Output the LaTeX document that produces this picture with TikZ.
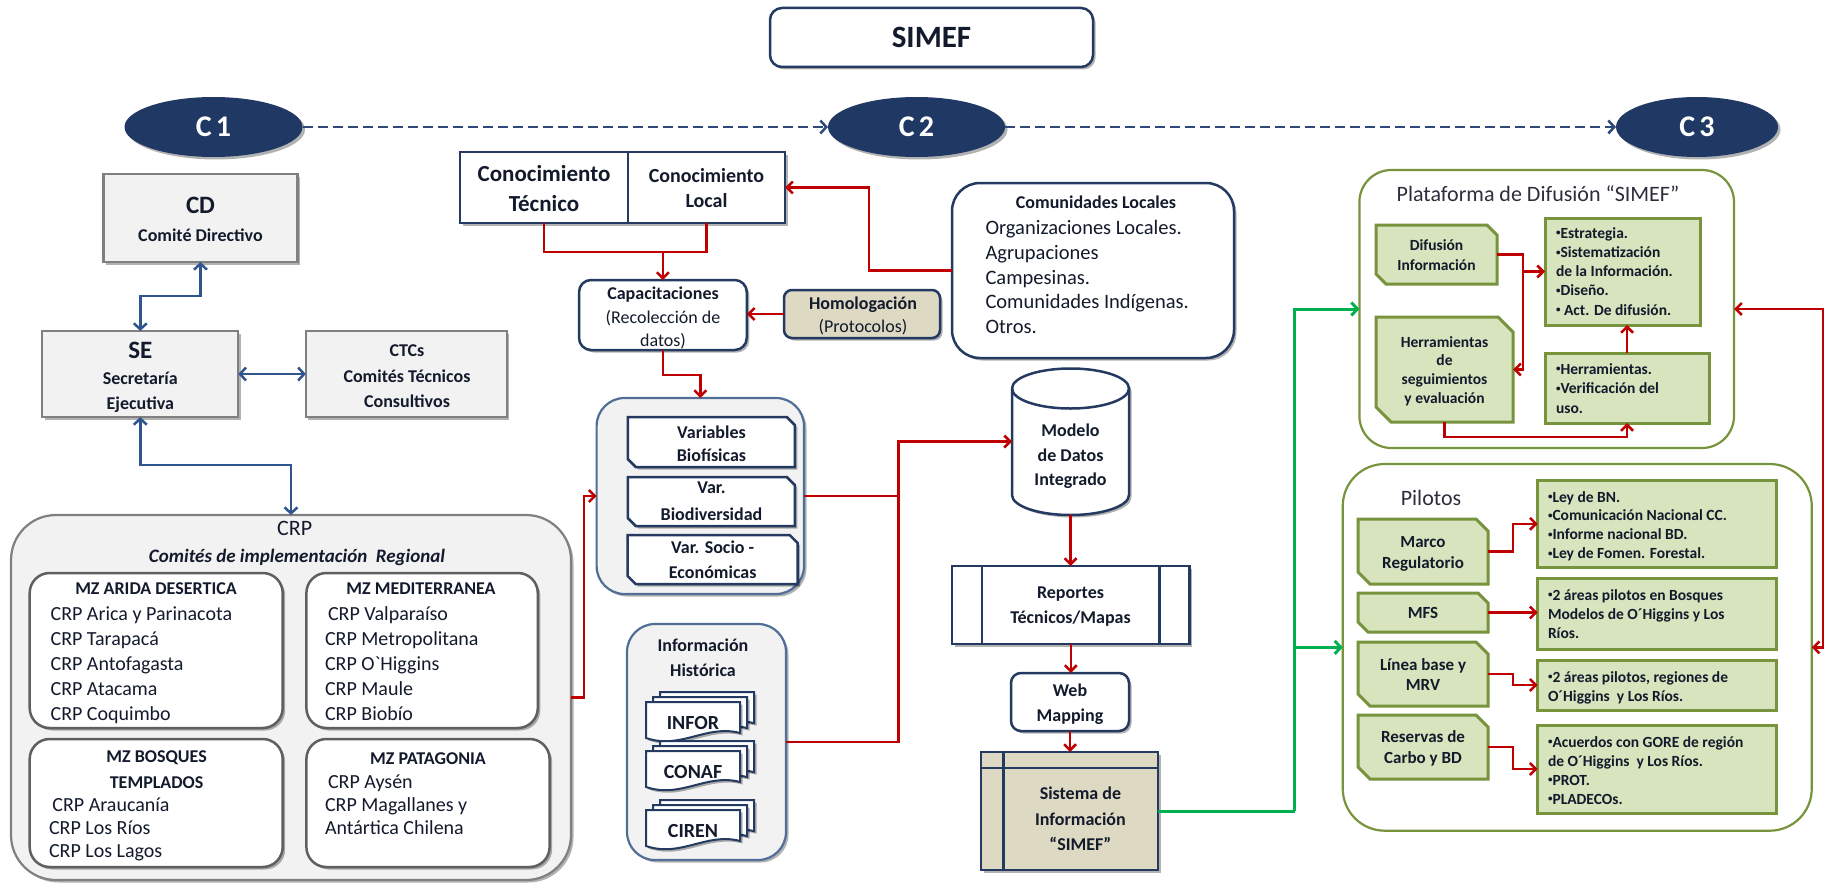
\documentclass[tikz,border=0pt]{standalone}
\usepackage{fontspec}
\setmainfont{Carlito}
\usetikzlibrary{arrows.meta,shadows,calc,shapes.geometric}
\definecolor{navy}{RGB}{31,56,100}
\definecolor{bnavy}{RGB}{36,58,96}
\definecolor{blueln}{RGB}{47,85,140}
\definecolor{dashc}{RGB}{46,74,122}
\definecolor{redc}{RGB}{192,0,0}
\definecolor{greenc}{RGB}{0,176,80}
\definecolor{olive}{RGB}{119,147,60}
\definecolor{olivef}{RGB}{215,228,189}
\definecolor{tanf}{RGB}{221,217,195}
\definecolor{greyf}{RGB}{242,242,242}
\definecolor{greyb}{RGB}{128,128,128}
\definecolor{mzb}{RGB}{95,95,95}
\definecolor{steel}{RGB}{80,110,150}
\definecolor{txtc}{RGB}{18,26,44}
\definecolor{txtg}{RGB}{55,60,50}
\definecolor{titc}{RGB}{45,45,60}
\newcommand\setfz[1]{\fontsize{#1}{#1}\selectfont}
\newcommand\sbul{\raisebox{0.28ex}{\fontsize{9}{9}\selectfont•}}
\newcommand\chbox[7]{%
  \node[bx0,minimum width=#4,minimum height=#5] (#1) at (#2,#3) {};
  \draw[#7] (#1.north west) -- ([xshift=-#6pt]#1.north east) -- ([yshift=-#6pt]#1.north east)
    -- (#1.south east) -- ([xshift=#6pt]#1.south west) -- ([yshift=#6pt]#1.south west) -- cycle;}
\newcommand\docstack[4]{%
  \foreach \o in {14,7,0}{%
    \draw[docsheet] ({#2+\o},{#3-0.7*\o}) -- ({#2+\o+94},{#3-0.7*\o}) -- ({#2+\o+94},{#3-0.7*\o+31})
      .. controls ({#2+\o+60},{#3-0.7*\o+22}) and ({#2+\o+35},{#3-0.7*\o+48}) .. ({#2+\o},{#3-0.7*\o+36}) -- cycle;}
  \node[tx, font=\setfz{20}\bfseries] (#1) at ({#2+47},{#3+27}) {#4};}
\tikzset{
  bx0/.style={inner sep=0pt, outer sep=0pt},
  shd/.style={drop shadow={shadow xshift=2.5pt,shadow yshift=-2.5pt,opacity=.3,fill=black}},
  greybox/.style={bx0, draw=greyb, fill=greyf, line width=2.2pt, shd},
  mzbox/.style={bx0, draw=mzb, fill=white, line width=2.5pt, rounded corners=20pt, shd},
  navybox/.style={bx0, draw=bnavy, fill=white, line width=2.5pt, shd},
  grpbox/.style={bx0, draw=steel, fill=greyf, line width=2.2pt, rounded corners=28pt, shd},
  olivebox/.style={bx0, draw=olive, fill=white, line width=2.2pt},
  leaf/.style={draw=olive, fill=olivef, line width=3pt},
  varbox/.style={draw=bnavy, fill=white, line width=2.5pt, shd},
  docsheet/.style={draw=bnavy, fill=white, line width=2pt, shd},
  navyline/.style={draw=bnavy, line width=2.5pt},
  oval/.style={bx0, ellipse, fill=navy, text=white, font=\setfz{30}\bfseries, shd},
  tx/.style={inner sep=0pt, outer sep=0pt, anchor=base, text=txtc},
  txl/.style={tx, anchor=base west},
  redline/.style={draw=redc, line width=2.5pt},
  redarrow/.style={redline, -{Straight Barb[length=6pt,width=12pt]}},
  redboth/.style={redline, {Straight Barb[length=6pt,width=12pt]}-{Straight Barb[length=6pt,width=12pt]}},
  bluearrow/.style={draw=blueln, line width=2.5pt, {Straight Barb[length=6pt,width=13pt]}-{Straight Barb[length=6pt,width=13pt]}},
  greenline/.style={draw=greenc, line width=3pt},
  greenarrow/.style={greenline, -{Straight Barb[length=6pt,width=13pt]}},
  dashln/.style={draw=dashc, line width=2.5pt, dash pattern=on 10pt off 5pt, -{Straight Barb[length=6pt,width=13pt]}},
}
\begin{document}
\begin{tikzpicture}[x=1pt,y=-1pt]
\useasboundingbox (0,0) rectangle (1825,883);
\fill[white] (0,0) rectangle (1825,883);

% ---------- top ----------
\node[navybox, rounded corners=12pt, minimum width=323, minimum height=59, font=\setfz{31}\bfseries, text=txtc] (simef) at (931.5,37.5) {SIMEF};
\node[oval, minimum width=178, minimum height=60] (c1) at (213.5,127) {C\hspace{4pt}1};
\node[oval, minimum width=177, minimum height=60] (c2) at (916.5,127) {C\hspace{4pt}2};
\node[oval, minimum width=162, minimum height=60] (c3) at (1697,127) {C\hspace{4pt}3};
\draw[dashln] (c1.east) -- (c2.west);
\draw[dashln] (c2.east) -- (c3.west);

% ---------- left ----------
\node[greybox, minimum width=194, minimum height=88] (cd) at (200.5,218) {};
\node[greybox, minimum width=196, minimum height=86] (se) at (140.3,374) {};
\node[greybox, minimum width=201, minimum height=86] (ctc) at (406.3,374) {};
\node[tx, font=\setfz{25}\bfseries] (cdA) at (200.5,213) {CD};
\node[tx, font=\setfz{18}\bfseries] (cdB) at (200.5,241) {Comité Directivo};
\node[tx, font=\setfz{25}\bfseries] (seA) at (140.3,358) {SE};
\node[tx, font=\setfz{18}\bfseries] (seB) at (140.3,384) {Secretaría};
\node[tx, font=\setfz{18}\bfseries] (seC) at (140.3,409) {Ejecutiva};
\node[tx, font=\setfz{18}\bfseries] (ctcA) at (407,356) {CTCs};
\node[tx, font=\setfz{18}\bfseries] (ctcB) at (407,382) {Comités Técnicos};
\node[tx, font=\setfz{18}\bfseries] (ctcC) at (407,407) {Consultivos};

\node[bx0, draw=greyb, fill=greyf, line width=2.2pt, rounded corners=45pt, shd, minimum width=560, minimum height=365] (crp) at (291,697.5) {};
\draw[bluearrow] (se.north) -- ++(0,-35) -| (cd.south);
\draw[bluearrow] (se.east) -- (ctc.west);
\draw[bluearrow] (se.south) -- ++(0,48) -| (crp.north);
\node[tx, font=\setfz{22}] (crpA) at (294.6,535) {CRP};
\node[tx, font=\setfz{19}\bfseries\itshape] (crpB) at (297,562) {Comités de implementación\ \ Regional};

\node[mzbox, minimum width=253, minimum height=155] (arida) at (156.2,650.5) {};
\node[mzbox, minimum width=231.4, minimum height=155] (medit) at (422.1,650.5) {};
\node[mzbox, minimum width=253, minimum height=128] (bosq) at (156.2,803) {};
\node[mzbox, minimum width=243.2, minimum height=128] (patag) at (428,803) {};

\node[tx, font=\setfz{18}\bfseries] (aridaH) at (156,594) {MZ ARIDA DESERTICA};
\foreach \t [count=\i] in {CRP Arica y Parinacota, CRP Tarapacá, CRP Antofagasta, CRP Atacama, CRP Coquimbo}
  \node[txl, font=\setfz{20}] (arida\i) at (50.6,{620.5+25*(\i-1)}) {\t};
\node[tx, font=\setfz{18}\bfseries] (meditH) at (421,594) {MZ MEDITERRANEA};
\foreach \x/\t [count=\i] in {328/CRP Valparaíso, 325/CRP Metropolitana, 325/CRP O\textasciigrave Higgins, 325/CRP Maule, 325/CRP Biobío}
  \node[txl, font=\setfz{20}] (medit\i) at (\x,{620.5+25*(\i-1)}) {\t};
\node[tx, font=\setfz{18}\bfseries] (bosqH) at (156.6,762) {MZ BOSQUES};
\node[tx, font=\setfz{18}\bfseries] (bosqH2) at (156.6,788) {TEMPLADOS};
\foreach \x/\y/\t [count=\i] in {52.4/811.5/CRP Araucanía, 49/834.5/CRP Los Ríos, 49/857.5/CRP Los Lagos}
  \node[txl, font=\setfz{20}] (bosq\i) at (\x,\y) {\t};
\node[tx, font=\setfz{18}\bfseries] (patagH) at (428,764) {MZ PATAGONIA};
\foreach \x/\y/\t [count=\i] in {328/788.5/CRP Aysén, 325/811.5/CRP Magallanes y, 325/834.5/Antártica Chilena}
  \node[txl, font=\setfz{20}] (patag\i) at (\x,\y) {\t};

% ---------- middle ----------
\node[navybox, minimum width=168, minimum height=71] (tec) at (544,187.5) {};
\node[navybox, minimum width=157, minimum height=71] (loc) at (706.5,187.5) {};
\node[tx, font=\setfz{23}\bfseries] (tecA) at (544,181) {Conocimiento};
\node[tx, font=\setfz{23}\bfseries] (tecB) at (544,211) {Técnico};
\node[tx, font=\setfz{20}\bfseries] (locA) at (706.5,182) {Conocimiento};
\node[tx, font=\setfz{20}\bfseries] (locB) at (706.5,207) {Local};

\node[navybox, rounded corners=12pt, minimum width=167.7, minimum height=70] (capa) at (662.9,315) {};
\node[tx, font=\setfz{18}\bfseries] (capaA) at (663,299) {Capacitaciones};
\node[tx, font=\setfz{18}] (capaB) at (663,323) {(Recolección de};
\node[tx, font=\setfz{18}] (capaC) at (663,346) {datos)};

\node[navybox, fill=tanf, rounded corners=8pt, minimum width=156, minimum height=48] (hom) at (862,314) {};
\node[tx, font=\setfz{18}\bfseries] (homA) at (863,309) {Homologación};
\node[tx, font=\setfz{18}] (homB) at (863,332) {(Protocolos)};

\node[navybox, rounded corners=28pt, minimum width=282, minimum height=175] (com) at (1093,270.5) {};
\node[tx, font=\setfz{18}\bfseries] (comH) at (1096,208) {Comunidades Locales};
\foreach \t [count=\i] in {Organizaciones Locales., Agrupaciones, Campesinas., Comunidades Indígenas., Otros.}
  \node[txl, font=\setfz{20.5}] (com\i) at (985.5,{234.5+24.8*(\i-1)}) {\t};

\coordinate (j1) at ($(capa.north)+(0,-28)$);
\draw[redline] (tec.south) |- (j1) -| (loc.south);
\draw[redarrow] (j1) -- (capa.north);
\draw[redarrow] (com.west) -- ++(-83,0) |- (loc.east);
\draw[redarrow] (hom.west) -- (hom.west -| capa.east);

\node[grpbox, minimum width=207.4, minimum height=196] (vg) at (700.3,496) {};
\draw[redarrow] (capa.south) -- ++(0,25) -| (vg.north);
\chbox{vb1}{711.25}{442}{167}{50}{8}{varbox}
\chbox{vb2}{711.25}{501.5}{167}{49}{8}{varbox}
\chbox{vb3}{712.7}{559.5}{170}{49}{8}{varbox}
\node[tx, font=\setfz{18}\bfseries] (vb1A) at (711.5,438) {Variables};
\node[tx, font=\setfz{18}\bfseries] (vb1B) at (711.5,461) {Biofísicas};
\node[tx, font=\setfz{18}\bfseries] (vb2A) at (711.5,493) {Var.};
\node[tx, font=\setfz{18}\bfseries] (vb2B) at (711.5,520) {Biodiversidad};
\node[tx, font=\setfz{18}\bfseries] (vb3A) at (712.7,553) {Var. Socio -};
\node[tx, font=\setfz{18}\bfseries] (vb3B) at (712.7,578) {Económicas};

\node[grpbox, minimum width=159, minimum height=236] (ih) at (706.5,742) {};
\node[tx, font=\setfz{18}\bfseries] (ihA) at (703,651) {Información};
\node[tx, font=\setfz{18}\bfseries] (ihB) at (703,676) {Histórica};
\docstack{infor}{646}{702}{INFOR}
\docstack{conaf}{646}{751}{CONAF}
\docstack{ciren}{646}{810}{CIREN}

% modelo (cylinder)
\node[bx0, minimum width=117, minimum height=147] (modelo) at (1070.5,441.5) {};
\draw[navyline, fill=white, shd] (1012,388.5) -- (1012,495) arc[start angle=180,end angle=360,x radius=58.5pt,y radius=20pt]
  -- (1129,388.5) arc[start angle=0,end angle=180,x radius=58.5pt,y radius=20pt] -- cycle;
\draw[navyline] (1012,388.5) arc[start angle=180,end angle=360,x radius=58.5pt,y radius=20pt];
\node[tx, font=\setfz{18}\bfseries] (modA) at (1070.5,436) {Modelo};
\node[tx, font=\setfz{18}\bfseries] (modB) at (1070.5,461) {de Datos};
\node[tx, font=\setfz{18}\bfseries] (modC) at (1070.5,485) {Integrado};

\draw[redarrow] (crp.east) -- ++(13,0) |- (vg.west);
\coordinate (j2) at ($(vg.east)+(94.4,0)$);
\draw[redarrow] (vg.east) -- (j2) |- (modelo.west);
\draw[redline] (ih.east) -| (j2);

\node[navybox, minimum width=237.5, minimum height=78] (rep) at (1070.75,605) {};
\draw[navyline] ([xshift=30pt]rep.north west) -- ([xshift=30pt]rep.south west);
\draw[navyline] ([xshift=-30pt]rep.north east) -- ([xshift=-30pt]rep.south east);
\node[tx, font=\setfz{18}\bfseries] (repA) at (1070.5,598) {Reportes};
\node[tx, font=\setfz{18}\bfseries] (repB) at (1070.5,623) {Técnicos/Mapas};

\node[navybox, rounded corners=10pt, minimum width=118, minimum height=58] (web) at (1070,702) {};
\node[tx, font=\setfz{18}\bfseries] (webA) at (1070,696) {Web};
\node[tx, font=\setfz{18}\bfseries] (webB) at (1070,721) {Mapping};

\node[navybox, fill=tanf, minimum width=177, minimum height=118] (sis) at (1069.5,811) {};
\draw[navyline] ([yshift=-16pt]sis.north west) -- ([yshift=-16pt]sis.north east);
\draw[navyline] ([xshift=22.7pt]sis.north west) -- ([xshift=22.7pt]sis.south west);
\node[tx, font=\setfz{18}\bfseries] (sisA) at (1080.4,799) {Sistema de};
\node[tx, font=\setfz{18}\bfseries] (sisB) at (1080.4,825) {Información};
\node[tx, font=\setfz{18}\bfseries] (sisC) at (1080.4,850) {“SIMEF”};

\draw[redarrow] (modelo.south) -- (modelo.south |- rep.north);
\draw[redarrow] (rep.south) -- (rep.south |- web.north);
\draw[redarrow] (web.south) -- (web.south |- sis.north);

% ---------- right ----------
\node[olivebox, rounded corners=32pt, minimum width=374.6, minimum height=278] (plat) at (1546.7,309) {};
\node[tx, font=\setfz{22}, text=titc] (platT) at (1538,201) {Plataforma de Difusión “SIMEF”};
\chbox{dif}{1436.5}{254.5}{121}{59}{10}{leaf}
\chbox{herr}{1444.5}{369.5}{137}{105}{15}{leaf}
\node[bx0, leaf, minimum width=155, minimum height=107] (estr) at (1622.5,271.5) {};
\node[bx0, leaf, minimum width=164, minimum height=70] (htools) at (1627,388) {};
\begin{scope}[every node/.append style={text=txtg}]
\node[tx, font=\setfz{15.5}\bfseries] (difA) at (1436.5,250) {Difusión};
\node[tx, font=\setfz{15.5}\bfseries] (difB) at (1436.5,270) {Información};
\foreach \t [count=\i] in {Herramientas, de, seguimientos, y evaluación}
  \node[tx, font=\setfz{15.5}\bfseries] (herr\i) at (1444.5,{347+18.7*(\i-1)}) {\t};
\foreach \t [count=\i] in {\sbul Estrategia., \sbul Sistematización, de la Información., \sbul Diseño., \sbul\ Act. De difusión.}
  \node[txl, font=\setfz{15.5}\bfseries] (estr\i) at (1556,{238+19.25*(\i-1)}) {\t};
\foreach \t [count=\i] in {\sbul Herramientas., \sbul Verificación del, uso.}
  \node[txl, font=\setfz{15.5}\bfseries] (htools\i) at (1556,{374+19.5*(\i-1)}) {\t};
\end{scope}
\draw[redarrow] (dif.east) -- ++(26,0) |- (estr.west);
\draw[redarrow] (dif.east) -- ++(26,0) |- (herr.east);
\draw[redarrow] (herr.south) -- ++(0,15) -| (htools.south);
\draw[redarrow] (htools.north) -- (htools.north |- estr.south);

\node[olivebox, rounded corners=42pt, minimum width=469, minimum height=366.7] (pil) at (1577.25,647.35) {};
\node[tx, font=\setfz{22}, text=titc] (pilT) at (1431,505) {Pilotos};
\chbox{marco}{1423}{551.5}{130}{65}{12}{leaf}
\chbox{mfs}{1423}{612.5}{130}{39}{10}{leaf}
\chbox{linea}{1423}{674}{130}{64}{12}{leaf}
\chbox{reserv}{1423}{747}{130}{64}{12}{leaf}
\node[bx0, leaf, minimum width=239, minimum height=87.7] (ley) at (1657.15,523.85) {};
\node[bx0, leaf, minimum width=239, minimum height=71] (bosq2) at (1657.15,613.5) {};
\node[bx0, leaf, minimum width=239, minimum height=50] (regio) at (1657.15,685) {};
\node[bx0, leaf, minimum width=239, minimum height=88] (acuer) at (1657.15,769) {};
\begin{scope}[every node/.append style={text=txtg}]
\node[tx, font=\setfz{17}\bfseries] (marcoA) at (1423,547.5) {Marco};
\node[tx, font=\setfz{17}\bfseries] (marcoB) at (1423,568.5) {Regulatorio};
\node[tx, font=\setfz{17}\bfseries] (mfsA) at (1423,618.5) {MFS};
\node[tx, font=\setfz{17}\bfseries] (lineaA) at (1423,670.5) {Línea base y};
\node[tx, font=\setfz{17}\bfseries] (lineaB) at (1423,690.5) {MRV};
\node[tx, font=\setfz{17}\bfseries] (resA) at (1423,742.5) {Reservas de};
\node[tx, font=\setfz{17}\bfseries] (resB) at (1423,763.5) {Carbo y BD};
\foreach \t [count=\i] in {\sbul Ley de BN., \sbul Comunicación Nacional CC., \sbul Informe nacional BD., \sbul Ley de Fomen. Forestal.}
  \node[txl, font=\setfz{15.5}\bfseries] (ley\i) at (1548,{502+18.7*(\i-1)}) {\t};
\foreach \t [count=\i] in {\sbul 2 áreas pilotos en Bosques, Modelos de O´Higgins y Los, Ríos.}
  \node[txl, font=\setfz{15.5}\bfseries] (bosqt\i) at (1548,{600+19*(\i-1)}) {\t};
\foreach \t [count=\i] in {{\sbul 2 áreas pilotos, regiones de}, O´Higgins\ \ y Los Ríos.}
  \node[txl, font=\setfz{15.5}\bfseries] (regio\i) at (1548,{682+19*(\i-1)}) {\t};
\foreach \t [count=\i] in {\sbul Acuerdos con GORE de región, de O´Higgins\ \ y Los Ríos., \sbul PROT., \sbul PLADECOs.}
  \node[txl, font=\setfz{15.5}\bfseries] (acuer\i) at (1548,{747+19*(\i-1)}) {\t};
\end{scope}
\draw[redarrow] (marco.east) -- ++(25,0) |- (ley.west);
\draw[redarrow] (mfs.east) -- (mfs.east -| bosq2.west);
\draw[redarrow] (linea.east) -- ++(25,0) |- (regio.west);
\draw[redarrow] (reserv.east) -- ++(25,0) |- (acuer.west);
\draw[redboth] (plat.east) -- ++(89,0) |- (pil.east);

% green connectors
\coordinate (gj) at ($(sis.east)+(136.5,0)$);
\draw[greenline] (sis.east) -- (gj);
\draw[greenarrow] (gj) |- (plat.west);
\draw[greenarrow] (gj) |- (pil.west);
\end{tikzpicture}
\end{document}
